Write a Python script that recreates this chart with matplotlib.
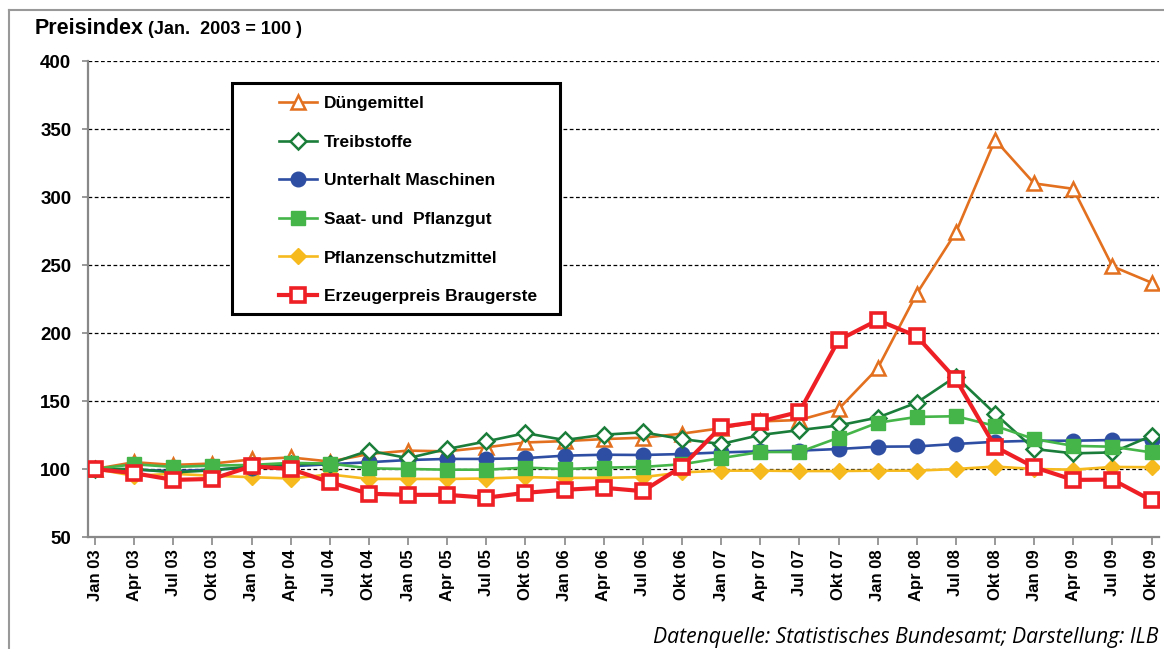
import matplotlib
matplotlib.use("Agg")
import matplotlib.pyplot as plt
from matplotlib.lines import Line2D
from matplotlib.patches import Rectangle

labels = ["Jan 03", "Apr 03", "Jul 03", "Okt 03", "Jan 04", "Apr 04", "Jul 04", "Okt 04",
          "Jan 05", "Apr 05", "Jul 05", "Okt 05", "Jan 06", "Apr 06", "Jul 06", "Okt 06",
          "Jan 07", "Apr 07", "Jul 07", "Okt 07", "Jan 08", "Apr 08", "Jul 08", "Okt 08",
          "Jan 09", "Apr 09", "Jul 09", "Okt 09"]

duengemittel = [100, 105, 103, 104, 107, 108.5, 105.5, 111, 113.5, 113, 116, 119.5, 120.5, 122,
                123, 126, 130, 135, 136, 144, 174, 229, 274, 342, 310, 306, 249, 237]
treibstoffe = [100, 100, 97.5, 99, 102, 103.5, 104, 113.5, 108, 114.7, 120.3, 126.4, 121.3, 125.2,
               127, 122, 118.4, 125, 128.6, 132, 137.8, 148.8, 168, 140.7, 114.7, 111.5, 112.2, 124.4]
maschinen = [100, 99.5, 98.5, 99.5, 101, 102, 103.5, 105, 106.6, 107.4, 107.4, 108, 109.8, 110.5,
             110.3, 111, 112.2, 113, 113.5, 114.7, 116.4, 116.6, 118.4, 120, 120.8, 120.8, 121.3, 121.5]
saatgut = [100, 103.5, 101.5, 102.5, 103, 104.5, 104, 100.5, 100, 99.5, 99.5, 101, 100, 101,
           101.5, 103.5, 108, 112.5, 112.5, 123, 134, 138.3, 138.8, 131.7, 122, 117, 116.4, 112.2]
pflanzenschutz = [100, 95, 96.5, 95, 94, 93, 96, 92.7, 92.7, 92.7, 93, 94, 93.5, 93.5,
                  94, 97.5, 98.8, 98.8, 98.5, 98.5, 98.8, 98.8, 100, 101.8, 100, 99.5, 101.5, 101.3]
braugerste = [100, 96.9, 92, 92.7, 102, 100, 90.3, 81.8, 81, 81, 78.9, 82.5, 84.7, 86.2,
              83.7, 101.8, 131, 134.9, 142, 194.7, 209.5, 197.6, 166, 116.4, 101.3, 92, 92.2, 76.9]

series_names = ["Düngemittel", "Treibstoffe", "Unterhalt Maschinen", "Saat- und  Pflanzgut",
                "Pflanzenschutzmittel", "Erzeugerpreis Braugerste"]
yticks = [50, 100, 150, 200, 250, 300, 350, 400]

FONT = "Liberation Sans"
W, H = 1164, 649
fig = plt.figure(figsize=(W / 100, H / 100), dpi=100)
ax = fig.add_axes([88 / W, 1 - 537 / H, (1159 - 88) / W, (537 - 61) / H])

x = list(range(len(labels)))

styles = {
    "Düngemittel": dict(color="#E2701F", marker="^", ms=10.5, mfc="white", mew=1.8, lw=1.9, z=3),
    "Treibstoffe": dict(color="#1B7D3A", marker="D", ms=8, mfc="white", mew=1.8, lw=1.9, z=5),
    "Unterhalt Maschinen": dict(color="#2E4EA3", marker="o", ms=10.5, mfc="#2E4EA3", mew=1, lw=1.9, z=4),
    "Saat- und  Pflanzgut": dict(color="#45B549", marker="s", ms=9.5, mfc="#45B549", mew=1, lw=1.9, z=6),
    "Pflanzenschutzmittel": dict(color="#F6BA1E", marker="D", ms=8.5, mfc="#F6BA1E", mew=1, lw=1.9, z=2),
    "Erzeugerpreis Braugerste": dict(color="#EE2026", marker="s", ms=10, mfc="white", mew=2.6, lw=3.0, z=7),
}
data = {
    "Düngemittel": duengemittel,
    "Treibstoffe": treibstoffe,
    "Unterhalt Maschinen": maschinen,
    "Saat- und  Pflanzgut": saatgut,
    "Pflanzenschutzmittel": pflanzenschutz,
    "Erzeugerpreis Braugerste": braugerste,
}

handles = []
for name in series_names:
    s = styles[name]
    ln, = ax.plot(x, data[name], color=s["color"], marker=s["marker"], ms=s["ms"],
                  mfc=s["mfc"], mec=s["color"], mew=s["mew"], lw=s["lw"], zorder=s["z"],
                  solid_joinstyle="round", label=name)
    handles.append(ln)

ax.set_xlim(-0.179, 27.19)
ax.set_ylim(50, 400)
ax.set_yticks(yticks)
ax.set_yticklabels([str(v) for v in yticks], fontfamily=FONT, fontweight="bold", fontsize=13.5)
ax.set_xticks(x)
ax.set_xticklabels(labels, rotation=90, fontfamily=FONT, fontweight="bold", fontsize=12)
ax.tick_params(axis="y", direction="out", length=4, width=1.2, color="#888888", pad=8)
ax.tick_params(axis="x", direction="out", length=6, width=1.2, color="#888888", pad=3)

for v in yticks[1:]:
    ax.axhline(v, color="black", lw=0.9, ls=(0, (3, 2)), zorder=1)

for side in ["top", "right"]:
    ax.spines[side].set_visible(False)
for side in ["left", "bottom"]:
    ax.spines[side].set_color("#888888")
    ax.spines[side].set_linewidth(1.6)

# legend box
ax.add_patch(Rectangle(((232 - 88) / 1071, (537 - 314) / 476), (560 - 232) / 1071, (314 - 83) / 476,
                       transform=ax.transAxes, fill=True, facecolor="white", edgecolor="black",
                       lw=2.2, zorder=8))
leg = ax.legend(handles=handles, loc="upper left", bbox_to_anchor=((279 - 88) / 1071, (537 - 96) / 476),
                frameon=False, borderpad=0, borderaxespad=0, handlelength=2.2, handletextpad=0.4,
                labelspacing=1.35, prop=dict(family=FONT, weight="bold", size=12.5))
leg.set_zorder(9)

fig.text(35 / W, 1 - 28 / H, "Preisindex", fontfamily=FONT, fontweight="bold", fontsize=15.5,
         va="center", ha="left")
fig.text(148 / W, 1 - 29 / H, "(Jan.  2003 = 100 )", fontfamily=FONT, fontweight="bold", fontsize=13,
         va="center", ha="left")
fig.text(1158 / W, 1 - 637 / H, "Datenquelle: Statistisches Bundesamt; Darstellung: ILB",
         fontfamily="Open Sans", fontstyle="italic", fontsize=15.2, va="center", ha="right")

# outer frame
fig.add_artist(Line2D([9 / W, 9 / W], [0, 1 - 10 / H], transform=fig.transFigure, color="#999999", lw=1.5))
fig.add_artist(Line2D([9 / W, 1], [1 - 10 / H, 1 - 10 / H], transform=fig.transFigure, color="#999999", lw=1.5))

fig.savefig("out.png", dpi=100)
